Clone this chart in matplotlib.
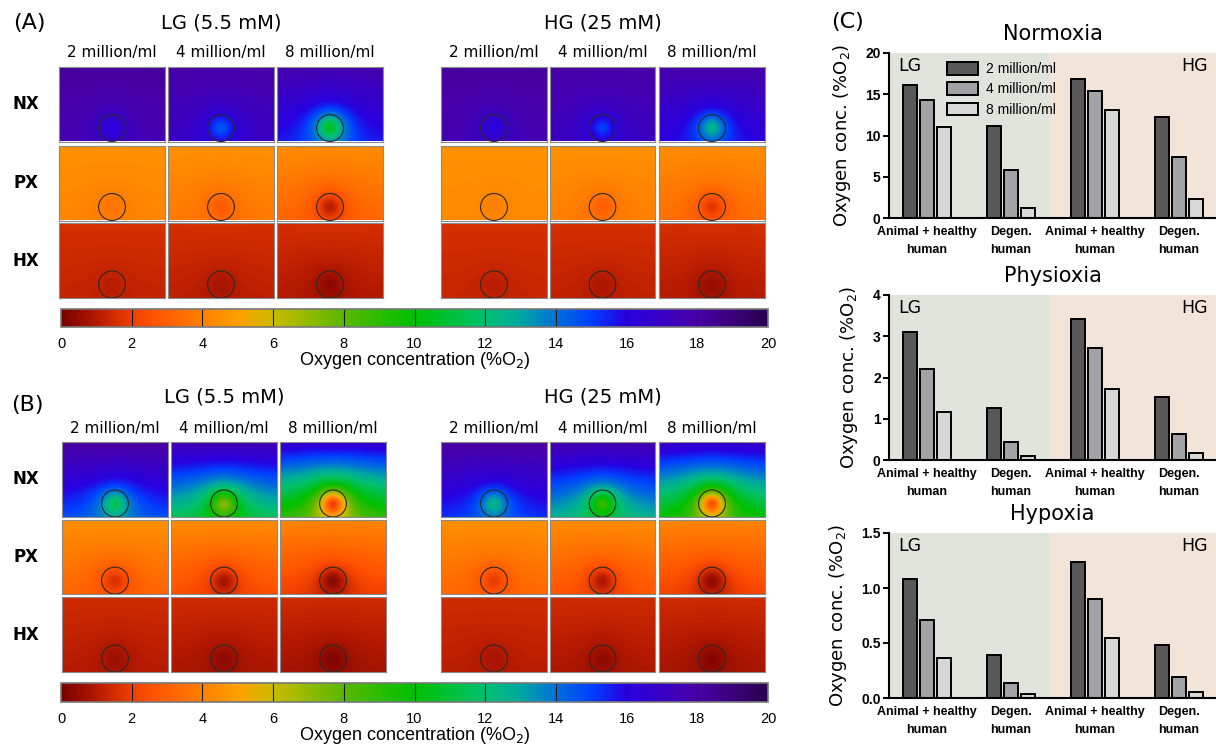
import numpy as np
import matplotlib
matplotlib.use("Agg")
import matplotlib.pyplot as plt
from matplotlib import font_manager
from matplotlib.colors import LinearSegmentedColormap, Normalize
from matplotlib.cm import ScalarMappable
from matplotlib.patches import Circle, Patch

W, H = 1216, 745
fig = plt.figure(figsize=(W / 100, H / 100), dpi=100)

names = {f.name for f in font_manager.fontManager.ttflist}
narrow = "Liberation Sans Narrow" if "Liberation Sans Narrow" in names else "Liberation Sans"


def rect(x0, y0, x1, y1):
    return [x0 / W, 1 - y1 / H, (x1 - x0) / W, (y1 - y0) / H]


# ---- data ----
densities = ["2 million/ml", "4 million/ml", "8 million/ml"]
glucose = ["LG (5.5 mM)", "HG (25 mM)"]
rows = ["NX", "PX", "HX"]

# oxygen (%O2) at top edge, bottom corners and disc centre; columns = LG 2/4/8, HG 2/4/8
a_top = [[18.3, 18.1, 18.0, 18.3, 18.1, 18.0],
         [4.6, 4.6, 4.5, 4.6, 4.6, 4.5],
         [1.6, 1.6, 1.6, 1.6, 1.6, 1.6]]
a_bot = [[17.8, 17.2, 16.0, 17.8, 17.3, 16.3],
         [4.2, 3.9, 3.4, 4.4, 4.1, 3.6],
         [1.3, 1.2, 1.05, 1.35, 1.25, 1.1]]
a_disc = [[16.0, 14.5, 10.5, 16.0, 15.0, 12.5],
          [3.6, 2.8, 1.1, 4.0, 3.0, 1.8],
          [1.1, 0.8, 0.35, 1.1, 0.9, 0.5]]

b_top = [[18.3, 17.8, 17.0, 18.3, 17.9, 17.2],
         [4.6, 4.5, 4.3, 4.6, 4.5, 4.3],
         [1.5, 1.5, 1.5, 1.5, 1.5, 1.5]]
b_bot = [[15.0, 12.0, 9.5, 15.5, 13.0, 10.5],
         [3.3, 2.6, 2.2, 3.4, 2.8, 2.3],
         [1.1, 0.9, 0.8, 1.15, 0.95, 0.85]]
b_disc = [[11.5, 7.2, 2.0, 12.5, 8.8, 2.6],
          [1.6, 0.8, 0.3, 1.9, 0.9, 0.4],
          [0.6, 0.35, 0.15, 0.8, 0.4, 0.2]]

categories = ["Animal + healthy\nhuman", "Degen.\nhuman", "Animal + healthy\nhuman", "Degen.\nhuman"]
normoxia = {"2 million/ml": [16.1, 11.1, 16.8, 12.2],
            "4 million/ml": [14.3, 5.8, 15.4, 7.4],
            "8 million/ml": [11.0, 1.25, 13.1, 2.25]}
physioxia = {"2 million/ml": [3.10, 1.27, 3.43, 1.53],
             "4 million/ml": [2.20, 0.44, 2.71, 0.62],
             "8 million/ml": [1.16, 0.10, 1.72, 0.16]}
hypoxia = {"2 million/ml": [1.08, 0.39, 1.24, 0.48],
           "4 million/ml": [0.71, 0.14, 0.90, 0.19],
           "8 million/ml": [0.36, 0.04, 0.55, 0.055]}

# ---- colormap ----
nodes = [(0, "#7a0000"), (1, "#b41a00"), (2.0, "#f04000"), (2.6, "#ff5400"), (3.2, "#ff6600"),
         (4, "#ff8000"), (5, "#ffa000"), (6, "#c8bc00"), (8, "#58b800"), (10, "#00c000"),
         (12, "#00c070"), (13, "#00a8a0"), (14, "#0070d8"), (15, "#0040ff"), (16, "#2800e0"),
         (18, "#4800a8"), (20, "#2a0050")]
cmap = LinearSegmentedColormap.from_list("o2", [(v / 20, c) for v, c in nodes])
norm = Normalize(0, 20)

AR = 106 / 74.5
CX, CY, R = AR / 2, 0.82, 0.18


def field(top, bot, disc):
    y = np.linspace(0, 1, 110)
    x = np.linspace(0, AR, 160)
    X, Y = np.meshgrid(x, y)
    r = np.hypot(X - CX, Y - CY)
    base = top + (bot - top) * Y
    sink = 1 / (1 + (r / R) ** 2)
    return base + (disc - (top + (bot - top) * CY)) * sink


def heat_block(cols_x, rows_y, top, bot, disc):
    for i, (y0, y1) in enumerate(rows_y):
        for j, (x0, x1) in enumerate(cols_x):
            ax = fig.add_axes(rect(x0, y0, x1, y1))
            ax.imshow(field(top[i][j], bot[i][j], disc[i][j]), cmap=cmap, norm=norm,
                      extent=[0, AR, 1, 0], aspect="auto", interpolation="bilinear")
            ax.add_patch(Circle((CX, CY), R, fill=False, ec="#2a2a2a", lw=0.8))
            ax.set_xlim(0, AR)
            ax.set_ylim(1, 0)
            ax.set_xticks([])
            ax.set_yticks([])
            for s in ax.spines.values():
                s.set_color("#8a8a8a")
                s.set_linewidth(0.8)


def colorbar(x0, y0, x1, y1, tick_y, label_y):
    cax = fig.add_axes(rect(x0, y0, x1, y1))
    cb = fig.colorbar(ScalarMappable(norm=norm, cmap=cmap), cax=cax, orientation="horizontal")
    cb.set_ticks(range(0, 21, 2))
    cb.outline.set_edgecolor("#777777")
    cb.outline.set_linewidth(1.2)
    cax.tick_params(length=0, labelsize=10.5, pad=(tick_y - y1) - 7)
    for t in cax.get_xticklabels():
        t.set_family(narrow)
    for v in range(2, 20, 2):
        cax.axvline(v, color="#1a1a1a", lw=0.8)
    fig.text((x0 + x1) / 2 / W, 1 - label_y / H, "Oxygen concentration (%O$_2$)",
             ha="center", va="center", fontsize=13, family=narrow)


def headers(cols_lg, cols_hg, title_y, col_y, rows_y):
    for cols, g in zip([cols_lg, cols_hg], glucose):
        cx = (cols[0][0] + cols[-1][1]) / 2
        fig.text(cx / W, 1 - title_y / H, g, ha="center", va="center", fontsize=14)
        for (x0, x1), d in zip(cols, densities):
            fig.text((x0 + x1) / 2 / W, 1 - col_y / H, d, ha="center", va="center", fontsize=11)
    for (y0, y1), r in zip(rows_y, rows):
        fig.text(26 / W, 1 - (y0 + y1) / 2 / H, r, ha="center", va="center",
                 fontsize=12, fontweight="bold")


# ---- panel A ----
a_cols_lg = [(59, 165), (168, 274), (277, 383)]
hg_cols = [(441, 547), (550, 655), (659, 765)]
a_rows = [(67, 141.5), (145.5, 220.5), (223, 298)]
heat_block(a_cols_lg + hg_cols, a_rows, a_top, a_bot, a_disc)
headers(a_cols_lg, hg_cols, 23, 53, a_rows)
colorbar(61, 308.5, 768, 327, 341, 361)
fig.text(29 / W, 1 - 23 / H, "(A)", ha="center", va="center", fontsize=16)

# ---- panel B ----
b_cols_lg = [(62, 168), (171, 277), (280, 386)]
b_rows = [(442, 517), (519.5, 594), (597, 672)]
heat_block(b_cols_lg + hg_cols, b_rows, b_top, b_bot, b_disc)
headers(b_cols_lg, hg_cols, 397, 428, b_rows)
colorbar(61, 683, 768, 702, 716, 736)
fig.text(27 / W, 1 - 405 / H, "(B)", ha="center", va="center", fontsize=16)

# ---- panel C ----
fig.text(848 / W, 1 - 22 / H, "(C)", ha="center", va="center", fontsize=16)
bar_colors = ["#585858", "#a3a3a7", "#d8d8d8"]
x = np.arange(len(categories))


def bar_panel(y0, y1, data, ymax, step, title, fmt, legend=False):
    ax = fig.add_axes(rect(889, y0, 1216, y1))
    ax.set_xlim(-0.45, 3.44)
    ax.set_ylim(0, ymax)
    ax.axvspan(-0.45, 1.46, color="#dfe4dc", lw=0, zorder=0)
    ax.axvspan(1.46, 3.44, color="#f3e4da", lw=0, zorder=0)
    for k, (name, vals) in enumerate(data.items()):
        ax.bar(x + (k - 1) * 0.2, vals, 0.168, color=bar_colors[k], edgecolor="black",
               lw=1.4, label=name, zorder=2)
    ax.set_xticks(x)
    ax.set_xticklabels(categories, fontsize=9, fontweight="bold", family=narrow, linespacing=1.6)
    ticks = np.arange(0, ymax + step / 2, step)
    ax.set_yticks(ticks)
    ax.set_yticklabels([fmt.format(t) for t in ticks], fontsize=10, fontweight="bold", family=narrow)
    ax.tick_params(axis="x", length=0, pad=6)
    ax.tick_params(axis="y", length=4, width=1.4, pad=2)
    for s in ["top", "right"]:
        ax.spines[s].set_visible(False)
    for s in ["left", "bottom"]:
        ax.spines[s].set_linewidth(1.5)
    ax.text(0.065, 0.92, "LG", transform=ax.transAxes, ha="center", va="center", fontsize=12.5)
    ax.text(0.935, 0.92, "HG", transform=ax.transAxes, ha="center", va="center", fontsize=12.5)
    ax.set_ylabel("Oxygen conc. (%O$_2$)", fontsize=13, labelpad=9)
    ax.set_title(title, fontsize=15, pad=9)
    if legend:
        hs = [Patch(facecolor=c, edgecolor="black", lw=1.4) for c in bar_colors]
        ax.legend(hs, list(data.keys()), loc="upper left", bbox_to_anchor=(0.14, 1.02),
                  frameon=False, handlelength=2.2, handleheight=1.0, handletextpad=0.6,
                  labelspacing=0.45, prop={"family": narrow, "size": 10})
    return ax


bar_panel(53, 218, normoxia, 20, 5, "Normoxia", "{:.0f}", legend=True)
bar_panel(295, 460, physioxia, 4, 1, "Physioxia", "{:.0f}")
bar_panel(533, 698, hypoxia, 1.5, 0.5, "Hypoxia", "{:.1f}")

fig.savefig("out.png", dpi=100)
